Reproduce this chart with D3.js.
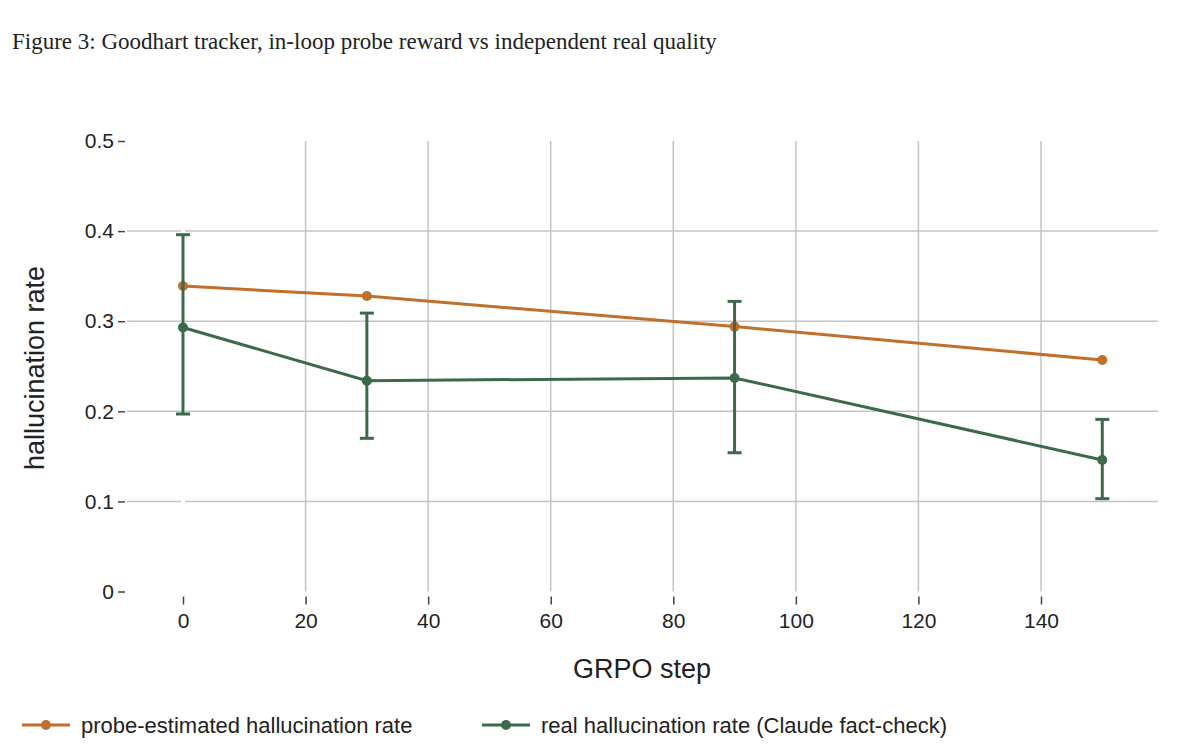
<!DOCTYPE html>
<html><head><meta charset="utf-8">
<script src="https://cdn.jsdelivr.net/npm/d3@7"></script>
<style>body{margin:0;background:#fff;} svg{display:block;}</style>
</head><body>
<script>
const steps = [0, 30, 90, 150];
const probeRate = [0.339, 0.328, 0.294, 0.257];
const realRate = [0.293, 0.234, 0.237, 0.146];
const realLow = [0.197, 0.170, 0.154, 0.103];
const realHigh = [0.396, 0.309, 0.322, 0.191];
const xTicks = [0, 20, 40, 60, 80, 100, 120, 140];
const yTicks = [0, 0.1, 0.2, 0.3, 0.4, 0.5];
const seriesNames = ["probe-estimated hallucination rate", "real hallucination rate (Claude fact-check)"];

const W = 1200, H = 754;
const orange = "#c1702c", green = "#3b6a4b", grid = "#c4c4c4";
const sans = "Liberation Sans, Arial, sans-serif";
const svg = d3.select("body").append("svg").attr("width", W).attr("height", H);

const x = d3.scaleLinear().domain([0, 140]).range([183, 1041]);
const y = d3.scaleLinear().domain([0, 0.5]).range([591.5, 141]);
const left = 127, right = 1158;

svg.append("text").attr("x", 12).attr("y", 49)
  .attr("font-family", "Liberation Serif, serif").attr("font-size", 23).attr("fill", "#222")
  .text("Figure 3: Goodhart tracker, in-loop probe reward vs independent real quality");

// grid
const g = svg.append("g");
g.selectAll(".vg").data(xTicks.filter(d => d !== 0)).join("line")
  .attr("x1", d => x(d)).attr("x2", d => x(d)).attr("y1", y(0.5)).attr("y2", y(0))
  .attr("stroke", grid).attr("stroke-width", 1.5);
g.selectAll(".hg").data(yTicks.filter(d => d !== 0 && d !== 0.5)).join("line")
  .attr("x1", left).attr("x2", right).attr("y1", d => y(d)).attr("y2", d => y(d))
  .attr("stroke", grid).attr("stroke-width", 1.5);
// white zeroline
g.append("line").attr("x1", x(0)).attr("x2", x(0)).attr("y1", y(0.5)).attr("y2", y(0))
  .attr("stroke", "#fff").attr("stroke-width", 4);

// axes
const yAxis = d3.axisLeft(y).tickValues(yTicks).tickSize(7).tickPadding(4)
  .tickFormat(d => d === 0 ? "0" : d3.format(".1f")(d));
const ya = svg.append("g").attr("transform", `translate(${left - 2},0)`).call(yAxis);
ya.select(".domain").remove();
ya.selectAll("line").attr("stroke", "#444").attr("stroke-width", 1.5);
ya.selectAll("text").attr("font-family", sans).attr("font-size", 21).attr("fill", "#222");

const xAxis = d3.axisBottom(x).tickValues(xTicks).tickSize(8).tickPadding(9).tickFormat(d3.format("d"));
const xa = svg.append("g").attr("transform", `translate(0,${y(0) + 5})`).call(xAxis);
xa.select(".domain").remove();
xa.selectAll("line").attr("stroke", "#444").attr("stroke-width", 1.5);
xa.selectAll("text").attr("font-family", sans).attr("font-size", 21).attr("fill", "#222");

svg.append("text").attr("x", 642).attr("y", 678).attr("text-anchor", "middle")
  .attr("font-family", sans).attr("font-size", 27).attr("fill", "#222").text("GRPO step");
svg.append("text").attr("transform", "translate(44,368) rotate(-90)").attr("text-anchor", "middle")
  .attr("font-family", sans).attr("font-size", 27).attr("fill", "#222").text("hallucination rate");

// series
const line = d3.line().x(d => x(d[0])).y(d => y(d[1]));
const probe = steps.map((s, i) => [s, probeRate[i]]);
const real = steps.map((s, i) => [s, realRate[i]]);

svg.append("path").datum(probe).attr("d", line).attr("fill", "none").attr("stroke", orange).attr("stroke-width", 3);
svg.selectAll(".po").data(probe).join("circle").attr("cx", d => x(d[0])).attr("cy", d => y(d[1])).attr("r", 5).attr("fill", orange);

const eb = svg.append("g").attr("stroke", green).attr("stroke-width", 3);
steps.forEach((s, i) => {
  eb.append("line").attr("x1", x(s)).attr("x2", x(s)).attr("y1", y(realLow[i])).attr("y2", y(realHigh[i]));
  eb.append("line").attr("x1", x(s) - 7).attr("x2", x(s) + 7).attr("y1", y(realLow[i])).attr("y2", y(realLow[i]));
  eb.append("line").attr("x1", x(s) - 7).attr("x2", x(s) + 7).attr("y1", y(realHigh[i])).attr("y2", y(realHigh[i]));
});
svg.append("path").datum(real).attr("d", line).attr("fill", "none").attr("stroke", green).attr("stroke-width", 3);
svg.selectAll(".ro").data(real).join("circle").attr("cx", d => x(d[0])).attr("cy", d => y(d[1])).attr("r", 5).attr("fill", green);

// legend
const legX = [22, 482], legColors = [orange, green];
seriesNames.forEach((name, i) => {
  const lg = svg.append("g").attr("transform", `translate(${legX[i]},725)`);
  lg.append("line").attr("x1", 0).attr("x2", 48).attr("stroke", legColors[i]).attr("stroke-width", 3);
  lg.append("circle").attr("cx", 24).attr("r", 5).attr("fill", legColors[i]);
  lg.append("text").attr("x", 59).attr("y", 8).attr("font-family", sans)
    .attr("font-size", 22).attr("fill", "#222").text(name);
});
</script>
</body></html>
